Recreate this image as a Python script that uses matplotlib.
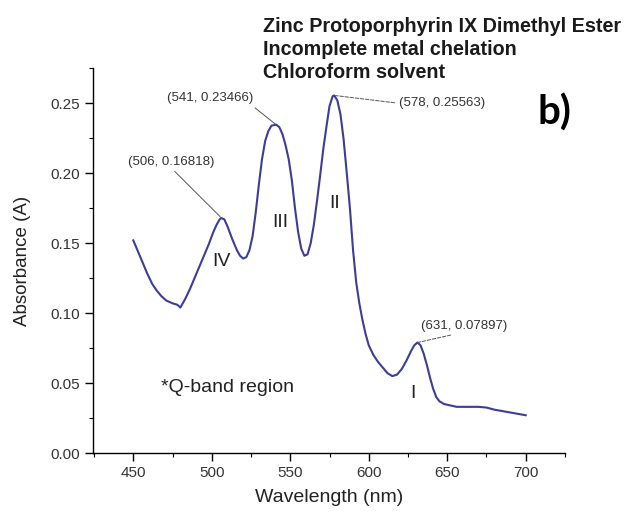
import matplotlib
matplotlib.use("Agg")
import matplotlib.pyplot as plt
from matplotlib.ticker import MultipleLocator

plt.rcParams["font.family"] = ["Liberation Sans", "DejaVu Sans"]

# ---------------------------------------
# Data
# ---------------------------------------

wavelength = [450, 453, 456, 459, 462, 465, 468, 471, 475, 478, 480,
              483, 486, 489, 492, 495, 498, 501, 503, 505, 506, 508,
              510, 513, 516, 518, 520, 522, 524, 526, 528, 530, 532,
              534, 536, 538, 541, 543, 545, 547, 549, 551, 553, 555,
              557, 559, 561, 563, 565, 567, 569, 571, 573, 575, 577,
              578, 580, 582, 584, 586, 588, 590, 592, 594, 596, 598,
              600, 603, 606, 609, 612, 615, 618, 621, 624, 627, 629,
              631, 633, 635, 637, 639, 641, 643, 645, 648, 652, 656,
              660, 665, 670, 675, 680, 685, 690, 695, 700]

absorbance = [0.152, 0.144, 0.136, 0.128, 0.121, 0.116, 0.112, 0.109, 0.107, 0.106, 0.104,
              0.110, 0.117, 0.125, 0.133, 0.141, 0.149, 0.158, 0.163, 0.167, 0.168, 0.167,
              0.162, 0.153, 0.145, 0.141, 0.139, 0.140, 0.145, 0.155, 0.172, 0.192, 0.210,
              0.223, 0.230, 0.234, 0.2347, 0.233, 0.228, 0.220, 0.210, 0.195, 0.175, 0.158,
              0.146, 0.141, 0.142, 0.150, 0.163, 0.180, 0.198, 0.217, 0.233, 0.248, 0.2550,
              0.2556, 0.252, 0.242, 0.224, 0.200, 0.175, 0.145, 0.122, 0.107, 0.095, 0.085,
              0.077, 0.070, 0.065, 0.061, 0.057, 0.055, 0.056, 0.060, 0.066, 0.073, 0.077,
              0.079, 0.077, 0.071, 0.063, 0.054, 0.046, 0.040, 0.037, 0.035, 0.034, 0.033,
              0.033, 0.033, 0.033, 0.0325, 0.031, 0.030, 0.029, 0.028, 0.027]

# peak labels: (peak x, peak y, text)
peak_x = [506, 541, 578, 631]
peak_y = [0.16818, 0.23466, 0.25563, 0.07897]
peak_text = ["(506, 0.16818)", "(541, 0.23466)", "(578, 0.25563)", "(631, 0.07897)"]
peak_text_pos = [(474, 0.2083), (499, 0.2536), (646.5, 0.2500), (661, 0.0908)]
peak_style = ["-", "-", "--", "--"]
leader_start = [(0.5, 0.0), (0.95, 0.1), (0.0, 0.5), (0.5, 0.0)]

band_names = ["IV", "III", "II", "I"]
band_pos = [(506.3, 0.1368), (543.5, 0.1650), (578.5, 0.1785), (628, 0.0426)]

# ---------------------------------------
# Plot
# ---------------------------------------

fig = plt.figure(figsize=(6.26, 5.12), dpi=100)
ax = fig.add_axes([0.149, 0.1152, 0.7535, 0.7514])

ax.plot(wavelength, absorbance, color="#3c3c9c", linewidth=1.5)

ax.set_xlim(424.5, 725)
ax.set_ylim(0, 0.275)

ax.xaxis.set_major_locator(MultipleLocator(50))
ax.xaxis.set_minor_locator(MultipleLocator(25))
ax.yaxis.set_major_locator(MultipleLocator(0.05))
ax.yaxis.set_minor_locator(MultipleLocator(0.025))
ax.yaxis.set_major_formatter(plt.FormatStrFormatter("%.2f"))

ax.spines["top"].set_visible(False)
ax.spines["right"].set_visible(False)
ax.spines["left"].set_linewidth(1.0)
ax.spines["bottom"].set_linewidth(1.0)

ax.tick_params(which="major", direction="out", length=6, width=1.0,
               labelsize=11, labelcolor="#333333")
ax.tick_params(which="minor", direction="out", length=3, width=0.8)

ax.set_xlabel("Wavelength (nm)", fontsize=14, color="#222222", labelpad=6)
ax.set_ylabel("Absorbance (A)", fontsize=13.5, color="#222222", labelpad=14)

# peak annotations with leader lines
for px, py, txt, pos, ls, rp in zip(peak_x, peak_y, peak_text, peak_text_pos,
                                    peak_style, leader_start):
    ax.annotate(txt, xy=(px, py), xytext=pos, textcoords="data",
                ha="center", va="center", fontsize=9.5, color="#333333",
                arrowprops=dict(arrowstyle="-", color="#555555", linewidth=0.7,
                                linestyle=ls, relpos=rp, shrinkA=1, shrinkB=1))

for name, pos in zip(band_names, band_pos):
    ax.text(pos[0], pos[1], name, fontsize=14, ha="center", va="center",
            color="#222222")

ax.text(510, 0.0465, "*Q-band region", fontsize=14, ha="center", va="center",
        color="#222222")

# title block in the upper right
title_lines = ["Zinc Protoporphyrin IX Dimethyl Ester",
               "Incomplete metal chelation",
               "Chloroform solvent"]
baselines = [31.7, 55.0, 78.3]
for line, base in zip(title_lines, baselines):
    fig.text(263 / 626, 1 - base / 512, line, fontsize=14.2, fontweight="bold",
             ha="left", va="baseline", color="#1a1a1a")

fig.text(554 / 626, 1 - 113 / 512, "b)", fontsize=29, fontweight="bold",
         ha="center", va="center", family=["Lato", "DejaVu Sans"])

fig.savefig("out.png", dpi=100)
